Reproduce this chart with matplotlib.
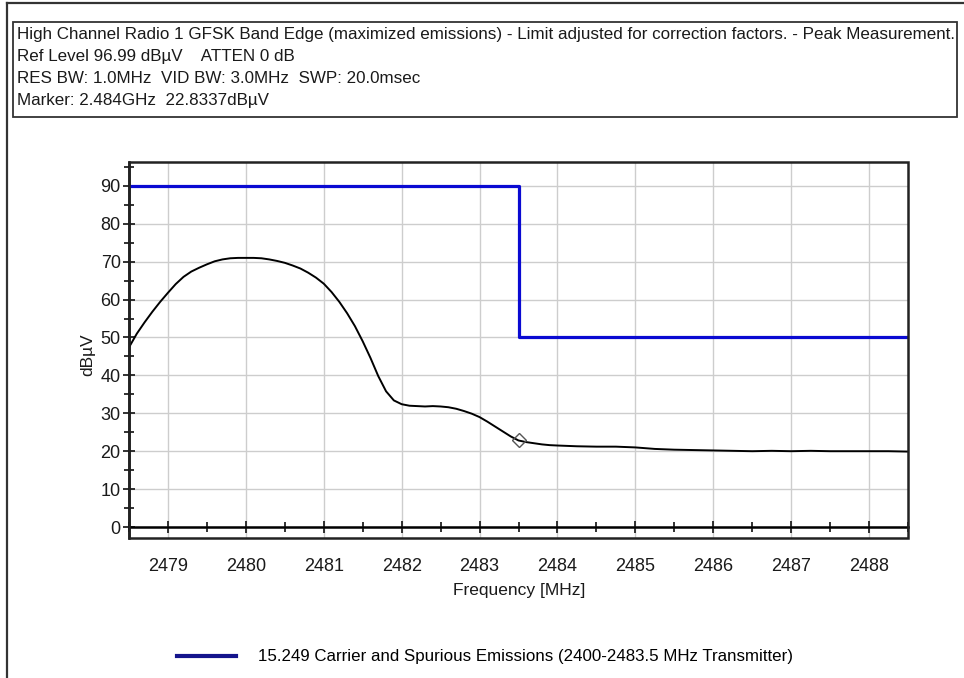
import matplotlib
matplotlib.use("Agg")
import matplotlib.pyplot as plt
from matplotlib.patches import Rectangle
from matplotlib.lines import Line2D
from matplotlib.ticker import MultipleLocator

plt.rcParams['font.family'] = ['Liberation Sans', 'DejaVu Sans']

# Measured trace (peak detector)
freq_mhz = [2478.50, 2478.60, 2478.70, 2478.80, 2478.90, 2479.00, 2479.10, 2479.20,
            2479.30, 2479.40, 2479.50, 2479.60, 2479.70, 2479.80, 2479.90, 2480.00,
            2480.10, 2480.20, 2480.30, 2480.40, 2480.50, 2480.60, 2480.70, 2480.80,
            2480.90, 2481.00, 2481.10, 2481.20, 2481.30, 2481.40, 2481.50, 2481.60,
            2481.70, 2481.80, 2481.90, 2482.00, 2482.10, 2482.20, 2482.30, 2482.40,
            2482.50, 2482.60, 2482.70, 2482.80, 2482.90, 2483.00, 2483.10, 2483.20,
            2483.30, 2483.40, 2483.50, 2483.60, 2483.70, 2483.80, 2483.90, 2484.00,
            2484.25, 2484.50, 2484.75, 2485.00, 2485.25, 2485.50, 2485.75, 2486.00,
            2486.25, 2486.50, 2486.75, 2487.00, 2487.25, 2487.50, 2487.75, 2488.00,
            2488.25, 2488.50]
level_dbuv = [47.4, 51.0, 54.0, 56.8, 59.4, 61.8, 64.1, 66.0,
              67.4, 68.4, 69.3, 70.1, 70.6, 70.9, 71.0, 71.0,
              71.0, 70.9, 70.6, 70.2, 69.7, 69.0, 68.2, 67.1,
              65.8, 64.2, 62.0, 59.4, 56.4, 53.0, 49.0, 44.6,
              39.8, 35.8, 33.4, 32.4, 32.0, 31.9, 31.8, 31.9,
              31.8, 31.6, 31.2, 30.6, 29.9, 29.0, 27.8, 26.5,
              25.2, 23.9, 22.83, 22.4, 22.1, 21.8, 21.6, 21.5,
              21.3, 21.2, 21.2, 21.0, 20.6, 20.4, 20.3, 20.2,
              20.1, 20.0, 20.1, 20.0, 20.1, 20.0, 20.0, 20.0,
              20.0, 19.9]

# Limit line (adjusted for correction factors)
limit_freq = [2478.5, 2483.5, 2483.5, 2488.5]
limit_level = [90, 90, 50, 50]
limit_label = "15.249 Carrier and Spurious Emissions (2400-2483.5 MHz Transmitter)"

marker_freq = 2483.5
marker_level = 22.83

header_lines = [
    "High Channel Radio 1 GFSK Band Edge (maximized emissions) - Limit adjusted for correction factors. - Peak Measurement.",
    "Ref Level 96.99 dB\u00b5V    ATTEN 0 dB",
    "RES BW: 1.0MHz  VID BW: 3.0MHz  SWP: 20.0msec",
    "Marker: 2.484GHz  22.8337dB\u00b5V",
]

W, H = 964, 678
fig = plt.figure(figsize=(W / 100, H / 100), dpi=100)
fig.patch.set_facecolor('white')

def fx(px):
    return px / W

def fy(py):
    return 1 - py / H

# outer window frame
fig.add_artist(Line2D([fx(7), 1], [fy(3), fy(3)], color='#333333', lw=1.6))
fig.add_artist(Line2D([fx(7), fx(7)], [fy(3), 0], color='#333333', lw=1.6))

# header box
fig.add_artist(Rectangle((fx(13), fy(117)), fx(957) - fx(13), fy(22) - fy(117),
                         transform=fig.transFigure, fill=False, ec='#333333', lw=1.3))
header_texts = []
for i, line in enumerate(header_lines):
    t = fig.text(fx(17), fy(39 + 22 * i), line, fontsize=10.5, color='#1a1a1a',
                 ha='left', va='baseline')
    header_texts.append(t)

ax = fig.add_axes([fx(129), fy(538), fx(908) - fx(129), fy(162) - fy(538)])
ax.set_xlim(2478.5, 2488.5)
ax.set_ylim(-2.9, 96.3)

ax.xaxis.set_major_locator(MultipleLocator(1))
ax.xaxis.set_minor_locator(MultipleLocator(0.5))
ax.yaxis.set_major_locator(MultipleLocator(10))
ax.yaxis.set_minor_locator(MultipleLocator(5))
ax.set_yticks(range(0, 100, 10))

ax.grid(True, which='major', color='#cdcdcd', lw=1.0)
ax.set_axisbelow(True)

for s in ['top', 'right']:
    ax.spines[s].set_visible(False)
ax.spines['bottom'].set_position(('data', 0))
ax.spines['bottom'].set_linewidth(1.8)
ax.spines['left'].set_linewidth(1.8)
ax.add_patch(Rectangle((0, 0), 1, 1, transform=ax.transAxes, fill=False,
                       ec='#222222', lw=1.8, clip_on=False, zorder=5))

ax.tick_params(axis='both', which='both', direction='inout', color='#222222', width=1.3)
ax.tick_params(axis='both', which='major', length=8, labelsize=13, labelcolor='#1a1a1a')
ax.tick_params(axis='both', which='minor', length=7)
ax.tick_params(axis='x', which='major', pad=18)
ax.tick_params(axis='y', which='major', pad=2)

ax.plot(limit_freq, limit_level, color='#0a0ad2', lw=2.3, zorder=3, label=limit_label)
ax.plot(freq_mhz, level_dbuv, color='black', lw=1.4, zorder=4)
ax.plot([marker_freq], [marker_level], marker='D', ms=7, mfc='none', mec='#555555',
        mew=1.0, zorder=6)

ax.set_xlabel("Frequency [MHz]", fontsize=12.5, color='#1a1a1a')
ax.set_ylabel("dB\u00b5V", fontsize=12.5, color='#1a1a1a')
ax.xaxis.set_label_coords((519 - 129) / (908 - 129), -(590 - 538) / (538 - 162))
ax.xaxis.label.set_va('center')
ax.yaxis.set_label_coords(-(129 - 88) / (908 - 129), (538 - 355) / (538 - 162))
ax.yaxis.label.set_va('center')

leg = fig.legend(loc='center', bbox_to_anchor=(fx(485), fy(657)), frameon=False,
                 fontsize=12.2, handlelength=3.5, handletextpad=1.3)
for lh in leg.get_lines():
    lh.set_linewidth(3)
    lh.set_color('#14148c')

# fit header first line width to the box
fig.canvas.draw()
r = fig.canvas.get_renderer()
target = 944
bb = header_texts[0].get_window_extent(r)
scale = target / bb.width
for t in header_texts:
    t.set_fontsize(t.get_fontsize() * scale)

fig.savefig("out.png", dpi=100, facecolor='white')
